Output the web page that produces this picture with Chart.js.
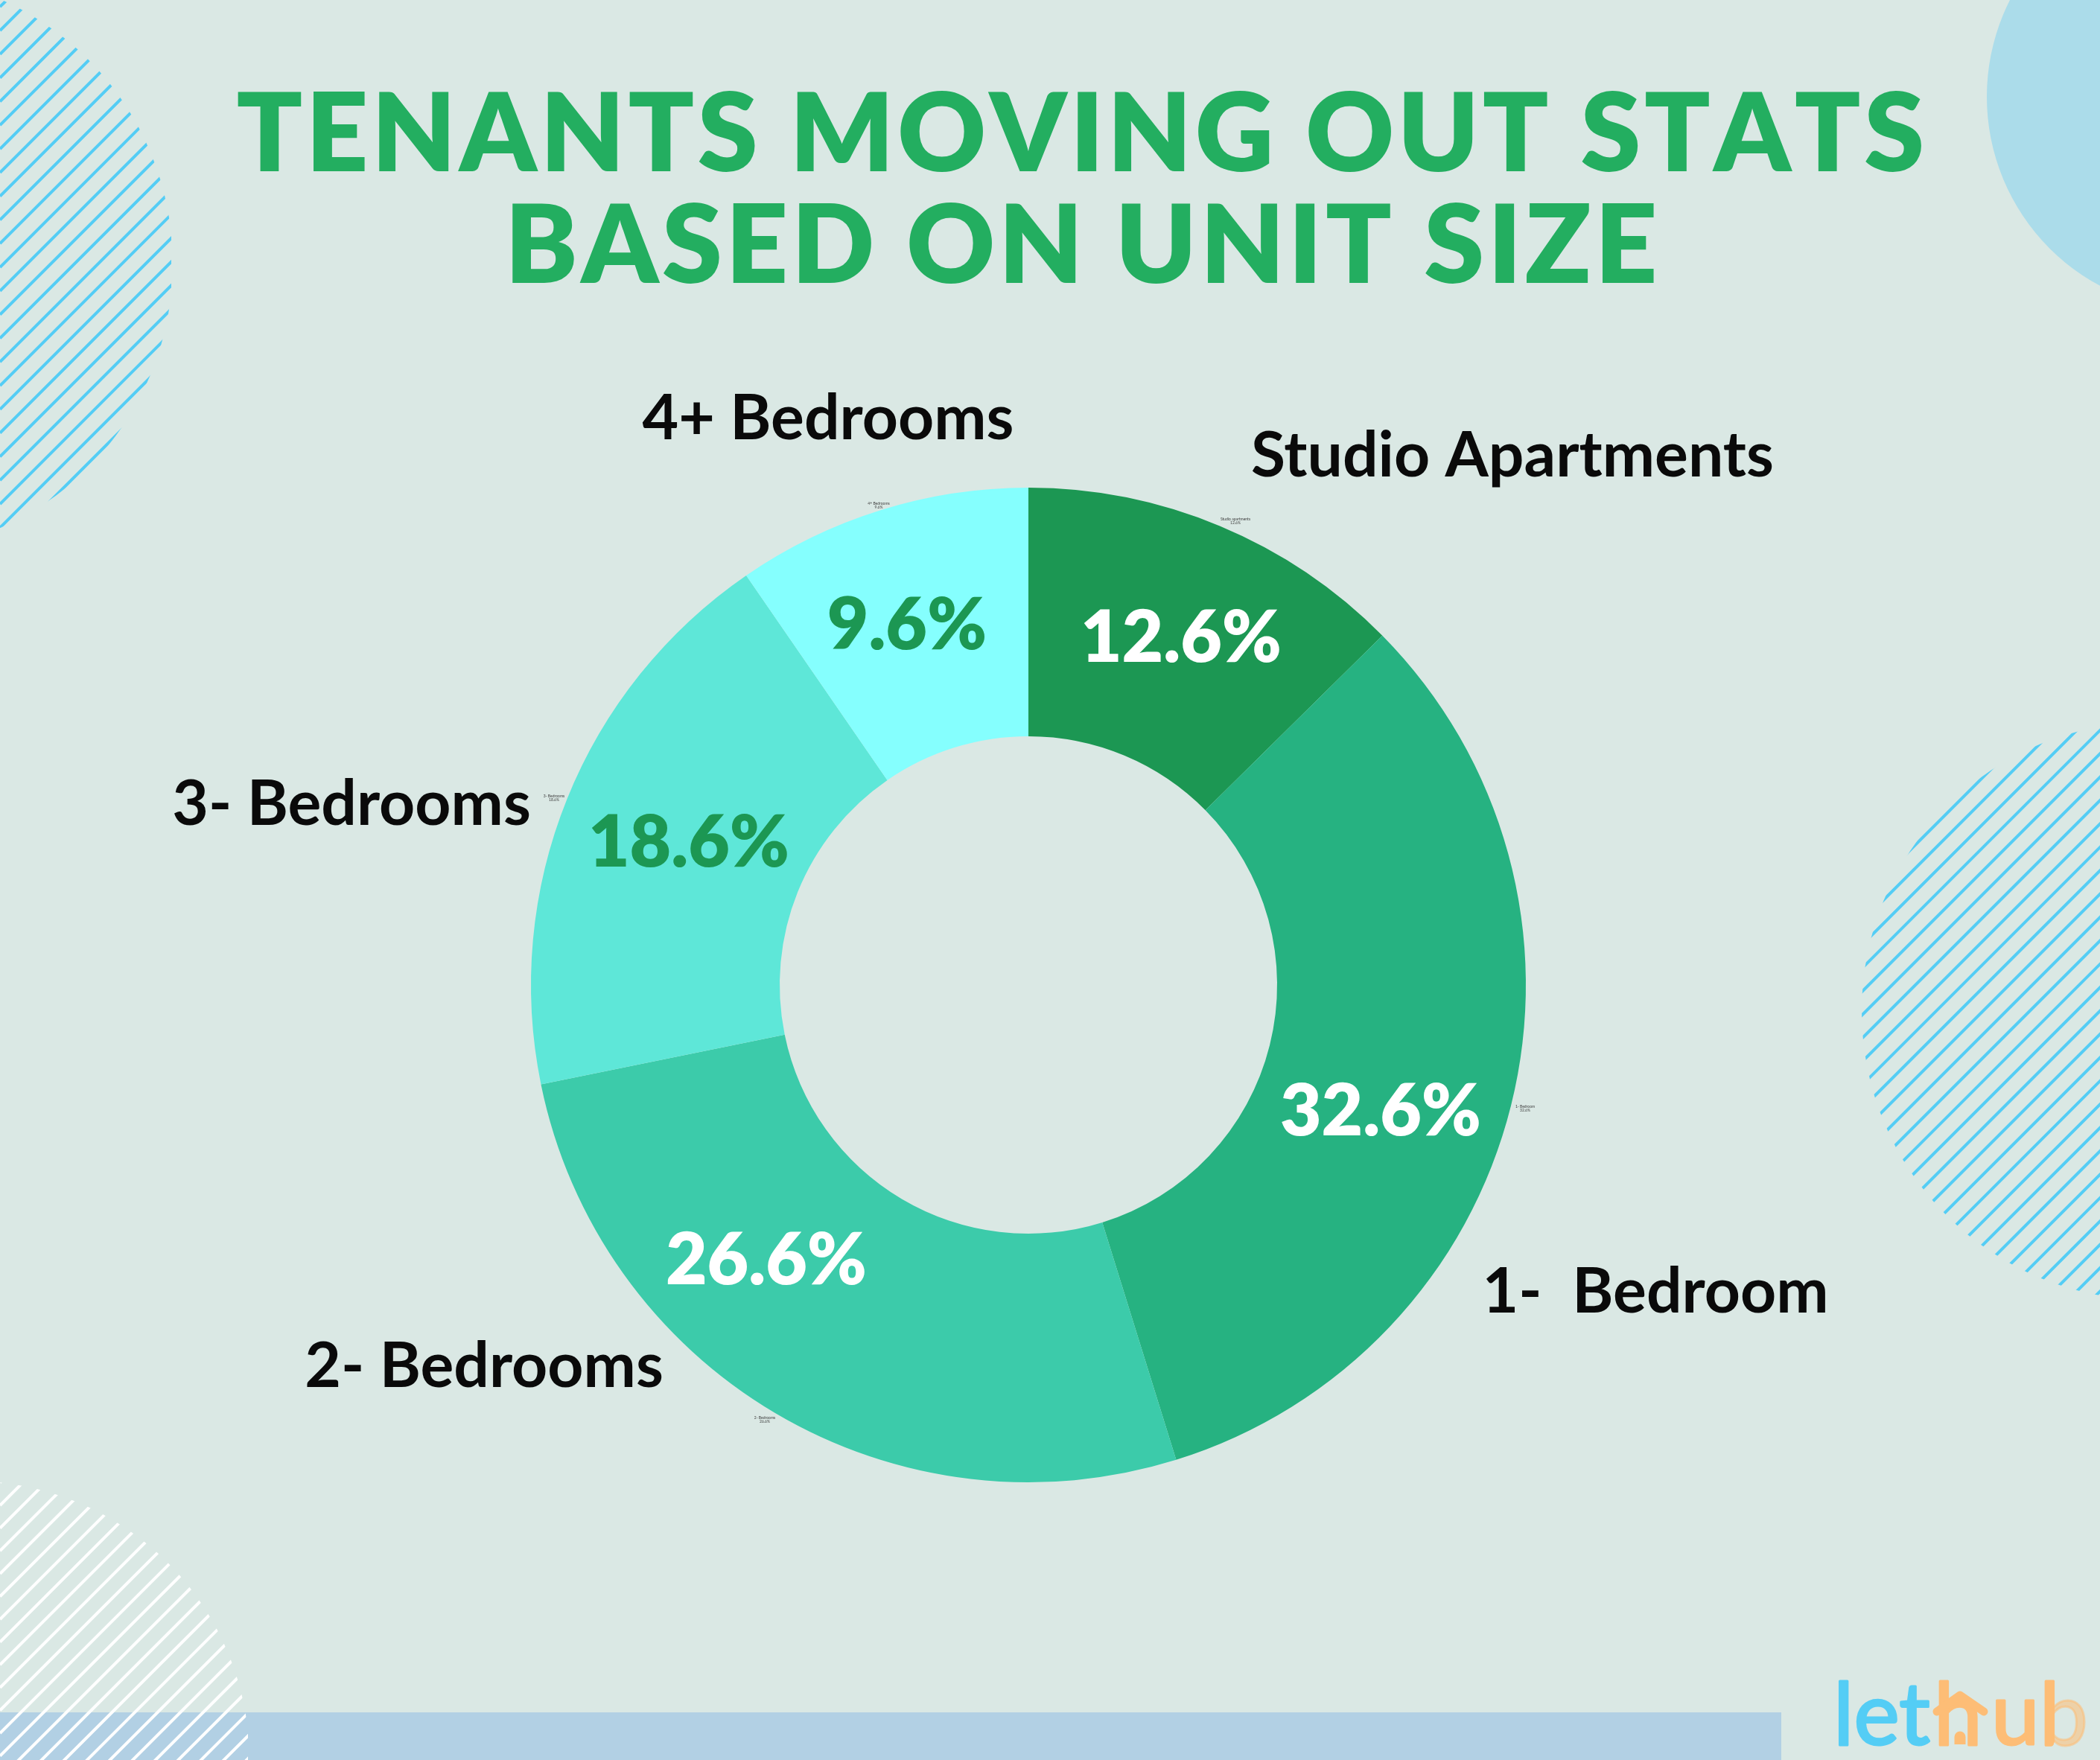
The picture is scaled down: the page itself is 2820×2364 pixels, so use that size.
<!DOCTYPE html>
<html>
<head>
<meta charset="utf-8">
<title>Tenants moving out stats</title>
<script src="https://cdn.jsdelivr.net/npm/chart.js@4/dist/chart.umd.js"></script>
<style>
  html, body { margin: 0; padding: 0; background: #dae8e4; }
  canvas { display: block; }
</style>
</head>
<body>
<canvas id="chart" width="2820" height="2364"></canvas>
<script>
/* Chart data, clockwise from 12 o'clock */
var categories = ['Studio Apartments', '1-  Bedroom', '2- Bedrooms', '3- Bedrooms', '4+ Bedrooms'];
var tinyCategories = ['Studio apartments', '1- Bedroom', '2- Bedrooms', '3- Bedrooms', '4+ Bedrooms'];
var values = [12.6, 32.6, 26.6, 18.6, 9.6];
var titleLines = ['TENANTS MOVING OUT STATS', 'BASED ON UNIT SIZE'];

/* Styles */
var sliceColors = ['#1c9753', '#26b281', '#3ccbaa', '#5ee7d8', '#85fffe'];
var valueColors = ['#ffffff', '#ffffff', '#ffffff', '#1c9753', '#1c9753'];
var BG = '#dae8e4';
var TITLE_GREEN = '#23ae60';
var HATCH_BLUE = '#54cdf5';
var LOGO_ORANGE = '#fdbd76';

/* Hand placed text, same order as categories: [centre x, baseline y] */
var namePos = [[2031, 640], [2223, 1763], [650, 1863], [472, 1108], [1112, 590]];
var valuePos = [[1586, 889], [1854, 1525], [1029, 1725], [925, 1164], [1218, 872]];
var tinyPos = [[1659, 699], [2048, 1488], [1027, 1906], [744, 1071], [1180, 678]];

function hatchCircle(ctx, cx, cy, r, clipLeft, clipRight, phase, spacing, width, color) {
  ctx.save();
  ctx.beginPath();
  ctx.arc(cx, cy, r, 0, Math.PI * 2);
  ctx.clip();
  ctx.beginPath();
  ctx.rect(clipLeft, 0, clipRight - clipLeft, 2364);
  ctx.clip();
  ctx.strokeStyle = color;
  ctx.lineWidth = width;
  /* lines run up and to the right, x + y = c */
  ctx.beginPath();
  for (var c = phase % spacing; c < 2820 + 2364; c += spacing) {
    ctx.moveTo(0, c);
    ctx.lineTo(c, 0);
  }
  ctx.stroke();
  ctx.restore();
}

/* Background panel, circles and hatching */
var backdrop = {
  id: 'backdrop',
  beforeDraw: function (chart) {
    var ctx = chart.ctx;
    ctx.save();
    ctx.fillStyle = BG;
    ctx.fillRect(0, 0, 2820, 2364);

    ctx.fillStyle = '#abdcea';
    ctx.beginPath();
    ctx.arc(2956, 130, 288, 0, Math.PI * 2);
    ctx.fill();

    ctx.fillStyle = '#b2d0e4';
    ctx.fillRect(0, 2300, 2392, 64);
    ctx.restore();

    hatchCircle(ctx, -156, 354, 388, 0, 230, 41, 31.8, 4, HATCH_BLUE);
    hatchCircle(ctx, 2888, 1358, 388, 2499, 2820, 3801, 31.4, 4, HATCH_BLUE);
    hatchCircle(ctx, -40, 2364, 375, 0, 333, 2022, 30.6, 4, '#ffffff');
  }
};

function logoText(ctx, text, x) {
  ctx.fillText(text, x, 2343);
  ctx.strokeText(text, x, 2343);
}

/* Title, callouts, percentages and logo */
var annotations = {
  id: 'annotations',
  afterDatasetsDraw: function (chart) {
    var ctx = chart.ctx;
    var i;
    ctx.save();
    ctx.textBaseline = 'alphabetic';
    ctx.textAlign = 'center';

    ctx.fillStyle = TITLE_GREEN;
    ctx.font = '800 146px Lato';
    ctx.fontKerning = 'none';
    ctx.letterSpacing = '4.55px';
    ctx.fillText(titleLines[0], 1453, 230);
    ctx.letterSpacing = '4.75px';
    ctx.fillText(titleLines[1], 1454, 380);
    ctx.letterSpacing = '0px';
    ctx.fontKerning = 'auto';

    ctx.fillStyle = '#0a0a0a';
    ctx.font = 'bold 84px Lato';
    for (i = 0; i < categories.length; i++) {
      ctx.fillText(categories[i], namePos[i][0], namePos[i][1]);
    }

    ctx.font = '800 96px Lato';
    for (i = 0; i < values.length; i++) {
      ctx.fillStyle = valueColors[i];
      ctx.fillText(values[i].toFixed(1) + '%', valuePos[i][0], valuePos[i][1]);
    }

    /* leftover tiny data labels from the source graphic */
    ctx.fillStyle = '#404040';
    ctx.font = '5px Lato';
    for (i = 0; i < values.length; i++) {
      ctx.fillText(tinyCategories[i], tinyPos[i][0], tinyPos[i][1]);
      ctx.fillText(values[i].toFixed(1) + '%', tinyPos[i][0], tinyPos[i][1] + 5);
    }

    /* logo */
    ctx.textAlign = 'left';
    ctx.lineJoin = 'round';
    ctx.lineWidth = 3;
    ctx.font = '116px Lato';
    ctx.fillStyle = ctx.strokeStyle = HATCH_BLUE;
    logoText(ctx, 'let', 2462);

    ctx.fillStyle = ctx.strokeStyle = LOGO_ORANGE;
    logoText(ctx, 'h', 2597);
    logoText(ctx, 'u', 2674);

    /* right half of the b is a faint circuit pattern in the logo */
    ctx.save();
    ctx.beginPath();
    ctx.rect(2400, 2240, 359, 124);
    ctx.clip();
    logoText(ctx, 'b', 2739);
    ctx.restore();
    ctx.save();
    ctx.beginPath();
    ctx.rect(2759, 2240, 61, 124);
    ctx.clip();
    ctx.globalAlpha = 0.55;
    logoText(ctx, 'b', 2739);
    ctx.restore();

    /* roof and door of the h */
    ctx.lineWidth = 11;
    ctx.lineCap = 'round';
    ctx.beginPath();
    ctx.moveTo(2601, 2299);
    ctx.lineTo(2632, 2277);
    ctx.lineTo(2664, 2299);
    ctx.stroke();
    ctx.beginPath();
    ctx.arc(2632, 2333, 7.5, Math.PI, 0);
    ctx.rect(2624.5, 2333, 15, 10);
    ctx.fill();
    ctx.restore();
  }
};

new Chart(document.getElementById('chart'), {
  type: 'doughnut',
  data: {
    labels: categories,
    datasets: [{
      data: values,
      backgroundColor: sliceColors,
      borderWidth: 0
    }]
  },
  options: {
    responsive: false,
    animation: false,
    devicePixelRatio: 1,
    cutout: '50%',
    /* puts the ring at centre (1381, 1323), radius 668 */
    layout: { padding: { left: 713, right: 771, top: 655, bottom: 373 } },
    plugins: {
      legend: { display: false },
      tooltip: { enabled: false }
    }
  },
  plugins: [backdrop, annotations]
});
</script>
</body>
</html>
